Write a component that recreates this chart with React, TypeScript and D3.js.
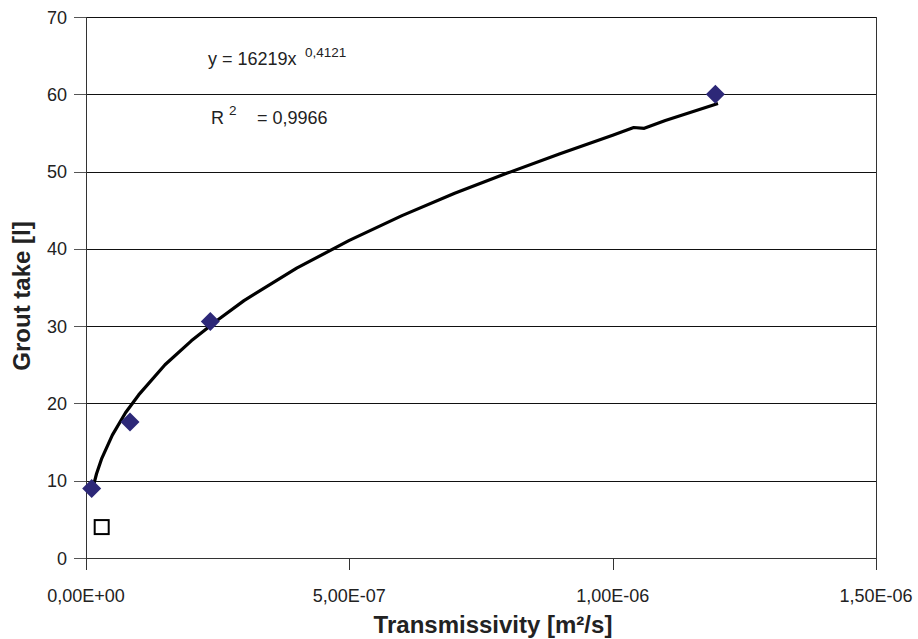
import React from "react";
import * as d3 from "d3";

// measured points (transmissivity m2/s, grout take l)
const pointsX = [1.08e-8, 8.35e-8, 2.36e-7, 1.195e-6];
const pointsY = [9.0, 17.6, 30.6, 60.0];

// outlier shown with hollow square
const outlierX = [2.98e-8];
const outlierY = [4.0];

// trendline
const trendX = [
  1.08e-8, 2e-8, 3e-8, 5e-8, 7.5e-8, 1e-7, 1.5e-7, 2e-7, 2.5e-7, 3e-7, 4e-7,
  5e-7, 6e-7, 7e-7, 8e-7, 9e-7, 1e-6, 1.04e-6, 1.06e-6, 1.1e-6, 1.2e-6,
];
const trendY = [
  8.5, 10.9, 12.9, 15.9, 18.8, 21.1, 25.0, 28.1, 30.8, 33.3, 37.5, 41.1, 44.3,
  47.2, 49.8, 52.3, 54.7, 55.7, 55.6, 56.6, 58.8,
];

const xTicks = [0, 5e-7, 1e-6, 1.5e-6];
const yTicks = [0, 10, 20, 30, 40, 50, 60, 70];

const W = 918;
const H = 639;
const margin = { left: 86, right: 42, top: 17, bottom: 81 };

const fmtX = (v: number) => {
  const [m, e] = v.toExponential(2).split("e");
  const sign = e[0] === "-" ? "-" : "+";
  const digits = e.replace(/[+-]/, "").padStart(2, "0");
  return `${m.replace(".", ",")}E${sign}${digits}`;
};

export default function App() {
  const x = d3
    .scaleLinear()
    .domain([0, 1.5e-6])
    .range([margin.left, W - margin.right]);
  const y = d3
    .scaleLinear()
    .domain([0, 70])
    .range([H - margin.bottom, margin.top]);

  const line = d3
    .line<number>()
    .x((_, i) => x(trendX[i]))
    .y((d) => y(d));

  const font = "'Liberation Sans', Arial, sans-serif";
  const x0 = x(0);
  const x1 = x(1.5e-6);
  const y0 = y(0);
  const y1 = y(70);

  return (
    <svg
      width={W}
      height={H}
      style={{ position: "absolute", left: 0, top: 0, background: "#fff" }}
      fontFamily={font}
    >
      {/* gridlines */}
      {yTicks.map((t) => (
        <line
          key={"g" + t}
          x1={x0}
          x2={x1}
          y1={Math.round(y(t)) + 0.5}
          y2={Math.round(y(t)) + 0.5}
          stroke={t === 0 ? "#333" : "#111"}
          strokeWidth={1}
        />
      ))}
      {/* frame */}
      <line x1={x0 + 0.5} x2={x0 + 0.5} y1={y1} y2={y0 + 12} stroke="#333" />
      <line
        x1={Math.round(x1) + 0.5}
        x2={Math.round(x1) + 0.5}
        y1={y1}
        y2={y0 + 12}
        stroke="#333"
      />
      {/* y ticks */}
      {yTicks.map((t) => (
        <g key={"y" + t}>
          <line
            x1={x0 - 12}
            x2={x0}
            y1={Math.round(y(t)) + 0.5}
            y2={Math.round(y(t)) + 0.5}
            stroke="#555"
          />
          <text
            x={x0 - 19}
            y={y(t) + 6.5}
            textAnchor="end"
            fontSize={18}
            fill="#222"
          >
            {t}
          </text>
        </g>
      ))}
      {/* x ticks */}
      {xTicks.map((t) => (
        <g key={"x" + t}>
          <line
            x1={Math.round(x(t)) + 0.5}
            x2={Math.round(x(t)) + 0.5}
            y1={y0}
            y2={y0 + 12}
            stroke="#333"
          />
          <text
            x={x(t)}
            y={y0 + 44}
            textAnchor="middle"
            fontSize={18}
            fill="#222"
          >
            {fmtX(t)}
          </text>
        </g>
      ))}

      {/* trendline */}
      <path
        d={line(trendY) || ""}
        fill="none"
        stroke="#000"
        strokeWidth={3.2}
        strokeLinejoin="round"
      />

      {/* points */}
      {pointsY.map((v, i) => {
        const cx = x(pointsX[i]);
        const cy = y(v);
        const r = 9.5;
        return (
          <path
            key={"p" + i}
            d={`M${cx},${cy - r}L${cx + r},${cy}L${cx},${cy + r}L${cx - r},${cy}Z`}
            fill="#2d2878"
          />
        );
      })}
      {outlierY.map((v, i) => (
        <rect
          key={"o" + i}
          x={x(outlierX[i]) - 7}
          y={y(v) - 7}
          width={14}
          height={14}
          fill="#fff"
          stroke="#000"
          strokeWidth={2}
        />
      ))}

      {/* equation */}
      <text x={208} y={65} fontSize={18} fill="#222">
        y = 16219x
      </text>
      <text x={305} y={57} fontSize={13.5} fill="#222">
        0,4121
      </text>
      <text x={211} y={124} fontSize={18} fill="#222">
        R
      </text>
      <text x={229} y={115} fontSize={13.5} fill="#222">
        2
      </text>
      <text x={257} y={124} fontSize={18} fill="#222">
        = 0,9966
      </text>

      {/* axis titles */}
      <text
        x={493}
        y={633}
        textAnchor="middle"
        fontSize={24}
        fontWeight="bold"
        fill="#222"
      >
        Transmissivity [m²/s]
      </text>
      <text
        transform={`translate(29.5, 296) rotate(-90)`}
        textAnchor="middle"
        fontSize={24}
        fontWeight="bold"
        fill="#222"
      >
        Grout take [l]
      </text>
    </svg>
  );
}
